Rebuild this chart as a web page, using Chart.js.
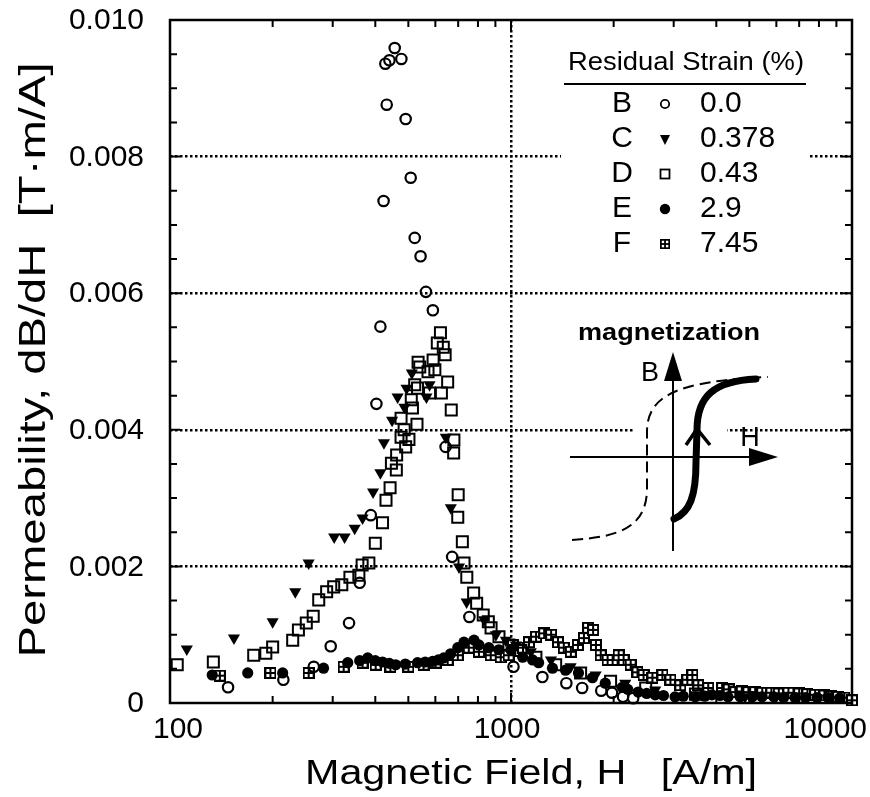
<!DOCTYPE html>
<html><head><meta charset="utf-8">
<script src="https://cdn.jsdelivr.net/npm/chart.js@4.4.1/dist/chart.umd.min.js"></script>
<style>html,body{margin:0;padding:0;background:#fff;}canvas{display:block;}</style>
</head><body>
<canvas id="c" width="870" height="797"></canvas>
<script>
// ---- data (H in A/m, permeability in T·m/A) ----
const seriesLetters = ['B','C','D','E','F'];
const strainValues = ['0.0','0.378','0.43','2.9','7.45'];
const xTickLabels = [100, 1000, 10000];
const yTickLabels = [0, 0.002, 0.004, 0.006, 0.008, 0.010];

const bH  = [148,215,264,296,335,360,388,403,414,423,428,432,440,456,477,491,508,522,543,563,590,643,672,755,1017,1236,1453,1617,1839,1978,2130,2282];
const bMu = [0.00023,0.00034,0.00053,0.00083,0.00117,0.00176,0.00275,0.00438,0.00551,0.00735,0.00936,0.00876,0.00941,0.00959,0.00943,0.00855,0.00769,0.00681,0.00654,0.00602,0.00575,0.00375,0.00214,0.00126,0.00053,0.00038,0.00029,0.00022,0.00018,0.00015,0.00009,0.00007];

const cH  = [112,154,200,233,255,303,325,348,367,394,414,424,448,465,487,494,512,565,577,644,666,704,741,834,903,966,1033,1143,1310,1496,1771,2163,2648,3467,4855];
const cMu = [0.00079,0.00095,0.00119,0.00163,0.00205,0.00243,0.00243,0.00256,0.00271,0.00309,0.00337,0.00381,0.00414,0.00448,0.00433,0.00461,0.00483,0.00448,0.00466,0.00389,0.00286,0.00199,0.00148,0.00122,0.00100,0.00092,0.00085,0.00075,0.00063,0.00053,0.00041,0.00029,0.00019,0.00012,0.00009];

const dH  = [105,134,176,191,200,229,238,251,263,273,288,302,319,337,358,366,383,400,420,430,442,446,461,462,476,491,502,486,530,476,514,510,522,532,577,625,652,540,571,598,534,591,641,633,608,621,668,680,679,700,698,720,728,742,777,793,829,858,874,922,986,1069,1183,1352,1600,1959,2483,3475];
const dMu = [0.00056,0.00060,0.00070,0.00073,0.00082,0.00092,0.00107,0.00117,0.00127,0.00151,0.00163,0.00170,0.00173,0.00184,0.00187,0.00202,0.00205,0.00234,0.00264,0.00297,0.00315,0.00351,0.00341,0.00363,0.00389,0.00375,0.00386,0.00400,0.00408,0.00417,0.00432,0.00444,0.00466,0.00461,0.00454,0.00454,0.00470,0.00492,0.00485,0.00488,0.00499,0.00502,0.00510,0.00521,0.00527,0.00542,0.00429,0.00385,0.00366,0.00305,0.00272,0.00236,0.00205,0.00184,0.00161,0.00146,0.00129,0.00119,0.00110,0.00097,0.00085,0.00077,0.00067,0.00056,0.00044,0.00032,0.00022,0.00013];

const eH  = [133,169,214,282,332,360,380,400,420,440,459,490,532,560,589,612,635,665,698,728,779,805,861,921,999,1082,1157,1205,1323,1445,1577,1733,1890,2120,2200,2360,2500,2648,2800,3027,3200,3467,3700,3883,4100,4329,4700,5100,5444,5900,6300,6806,7300,7900,8511,9200];
const eMu = [0.00041,0.00044,0.00044,0.00051,0.00059,0.00062,0.00066,0.00062,0.00060,0.00058,0.00056,0.00057,0.00059,0.00060,0.00061,0.00063,0.00066,0.00072,0.00081,0.00089,0.00092,0.00085,0.00081,0.00078,0.00078,0.00067,0.00063,0.00059,0.00051,0.00048,0.00044,0.00037,0.00029,0.00023,0.00020,0.00016,0.00014,0.00012,0.00011,0.00009,0.00010,0.00009,0.00010,0.00012,0.00011,0.00009,0.00009,0.00009,0.00009,0.00009,0.00008,0.00008,0.00008,0.00008,0.00008,0.00007];

const fH  = [140,197,255,323,367,401,443,500,554,601,652,698,752,805,872,933,984,1013,1084,1129,1184,1251,1311,1373,1428,1498,1571,1636,1683,1741,1774,1833,1920,1986,2069,2139,2243,2349,2447,2598,2780,2934,3137,3289,3402,3542,3787,4160,4350,4546,4750,4966,5200,5454,5800,6100,6508,7000,7400,7793,8300,8700,9106,9500,10000];
const fMu = [0.00040,0.00044,0.00044,0.00053,0.00059,0.00056,0.00053,0.00053,0.00056,0.00059,0.00063,0.00070,0.00081,0.00075,0.00070,0.00067,0.00070,0.00085,0.00081,0.00089,0.00097,0.00102,0.00100,0.00089,0.00081,0.00075,0.00085,0.00095,0.00110,0.00107,0.00085,0.00070,0.00063,0.00063,0.00070,0.00063,0.00056,0.00045,0.00041,0.00037,0.00041,0.00034,0.00026,0.00034,0.00041,0.00026,0.00022,0.00022,0.00020,0.00016,0.00017,0.00016,0.00016,0.00015,0.00015,0.00014,0.00015,0.00014,0.00013,0.00012,0.00011,0.00010,0.00009,0.00008,0.00004];

// ---- helpers ----
const FONT = '"Liberation Sans", Arial, Helvetica, sans-serif';
const pts = (h, m) => h.map((v, i) => ({x: v, y: m[i]}));
function makeFMarker() {
  const c = document.createElement('canvas'); c.width = 12; c.height = 12;
  const g = c.getContext('2d');
  g.fillStyle = '#000'; g.fillRect(0, 0, 12, 12);
  g.fillStyle = '#fff';
  g.fillRect(2, 2, 3, 3); g.fillRect(7, 2, 3, 3); g.fillRect(2, 7, 3, 3); g.fillRect(7, 7, 3, 3);
  return c;
}
const fMarker = makeFMarker();
function txt(ctx, s, x, y, size, align, w, bold) {
  ctx.save();
  ctx.font = (bold ? 'bold ' : '') + size + 'px ' + FONT;
  ctx.textBaseline = 'middle';
  ctx.textAlign = align;
  ctx.fillStyle = '#000';
  const m = ctx.measureText(s).width;
  const sx = w ? w / m : 1;
  ctx.translate(x, y); ctx.scale(sx, 1);
  ctx.fillText(s, 0, 0);
  ctx.restore();
}
function legendMarker(ctx, i, x, y) {
  ctx.save();
  ctx.strokeStyle = '#000'; ctx.fillStyle = '#000'; ctx.lineWidth = 1.8;
  if (i === 0) { ctx.beginPath(); ctx.arc(x, y, 4.2, 0, Math.PI * 2); ctx.stroke(); }
  else if (i === 1) { ctx.beginPath(); ctx.moveTo(x - 5, y - 4); ctx.lineTo(x + 5, y - 4); ctx.lineTo(x, y + 6); ctx.closePath(); ctx.fill(); }
  else if (i === 2) { ctx.strokeRect(x - 4.5, y - 4.5, 9, 9); }
  else if (i === 3) { ctx.beginPath(); ctx.arc(x, y, 5.2, 0, Math.PI * 2); ctx.fill(); }
  else { ctx.drawImage(fMarker, x - 5, y - 5, 10, 10); }
  ctx.restore();
}

const deco = {
  id: 'deco',
  afterDraw(chart) {
    const {ctx, chartArea: a, scales: {x, y}} = chart;
    ctx.save();
    // frame
    ctx.strokeStyle = '#000'; ctx.lineWidth = 2.5;
    ctx.strokeRect(a.left, a.top, a.right - a.left, a.bottom - a.top);
    // inward ticks
    ctx.lineWidth = 2; ctx.beginPath();
    for (let e = 2; e <= 3; e++) for (let k = 1; k <= 9; k++) {
      const v = k * Math.pow(10, e); if (v <= 100) continue;
      const px = x.getPixelForValue(v), len = k === 1 ? 10 : 7;
      ctx.moveTo(px, a.bottom); ctx.lineTo(px, a.bottom - len);
      ctx.moveTo(px, a.top); ctx.lineTo(px, a.top + len);
    }
    for (let i = 1; i < 20; i++) {
      const py = y.getPixelForValue(i * 0.0005), len = i % 4 === 0 ? 10 : 7;
      ctx.moveTo(a.left, py); ctx.lineTo(a.left + len, py);
      ctx.moveTo(a.right, py); ctx.lineTo(a.right - len, py);
    }
    ctx.stroke();
    // tick labels
    yTickLabels.forEach(v => txt(ctx, v === 0 ? '0' : v.toFixed(3), a.left - 26, y.getPixelForValue(v) + 1, 30, 'right'));
    xTickLabels.forEach(v => {
      const px = x.getPixelForValue(v);
      if (v === 10000) txt(ctx, '10000', 867, 730, 30, 'right');
      else txt(ctx, String(v), px + (v === 100 ? 8 : -4), 730, 30, 'center');
    });
    // axis titles
    txt(ctx, 'Magnetic Field, H   [A/m]', 305, 774, 35, 'left', 452);
    ctx.save(); ctx.translate(35, 360); ctx.rotate(-Math.PI / 2);
    txt(ctx, 'Permeability, dB/dH  [T\u00B7m/A]', 0, 0, 36, 'center', 595);
    ctx.restore();

    // legend
    ctx.fillStyle = '#fff'; ctx.fillRect(561, 40, 248, 225);
    txt(ctx, 'Residual Strain (%)', 686, 63, 25, 'center', 236);
    ctx.lineWidth = 2; ctx.beginPath(); ctx.moveTo(564, 84); ctx.lineTo(806, 84); ctx.stroke();
    seriesLetters.forEach((s, i) => {
      const yy = 104 + i * 35;
      txt(ctx, s, 622, yy, 30, 'center');
      legendMarker(ctx, i, 665, yy);
      txt(ctx, strainValues[i], 700, yy, 30, 'left');
    });

    // inset: magnetization sketch
    ctx.fillStyle = '#fff'; ctx.fillRect(633, 421, 94, 18);
    txt(ctx, 'magnetization', 669, 333, 24, 'center', 182, true);
    txt(ctx, 'B', 650, 374, 27, 'center');
    txt(ctx, 'H', 750, 439, 27, 'center');
    ctx.strokeStyle = '#000'; ctx.fillStyle = '#000';
    ctx.lineWidth = 2; ctx.setLineDash([]);
    ctx.beginPath(); ctx.moveTo(673, 551); ctx.lineTo(673, 378); ctx.stroke();
    ctx.beginPath(); ctx.moveTo(673, 352); ctx.lineTo(664, 381); ctx.lineTo(682, 381); ctx.closePath(); ctx.fill();
    ctx.beginPath(); ctx.moveTo(570, 457); ctx.lineTo(752, 457); ctx.stroke();
    ctx.beginPath(); ctx.moveTo(778, 457); ctx.lineTo(749, 448); ctx.lineTo(749, 466); ctx.closePath(); ctx.fill();
    // dashed loop branch
    ctx.lineWidth = 2; ctx.setLineDash([11, 6]);
    ctx.beginPath(); ctx.moveTo(572, 540);
    ctx.bezierCurveTo(618, 537, 646, 528, 647, 490);
    ctx.lineTo(647, 432);
    ctx.bezierCurveTo(647, 396, 676, 381, 768, 377);
    ctx.stroke();
    ctx.setLineDash([]);
    // thick magnetization curve
    ctx.lineWidth = 7; ctx.lineCap = 'round';
    ctx.beginPath(); ctx.moveTo(674, 519);
    ctx.bezierCurveTo(690, 512, 696, 496, 696, 462);
    ctx.lineTo(697, 430);
    ctx.bezierCurveTo(697, 396, 714, 381, 756, 379);
    ctx.stroke();
    ctx.lineWidth = 3.5; ctx.lineCap = 'butt';
    ctx.beginPath(); ctx.moveTo(686, 445); ctx.lineTo(697, 429); ctx.lineTo(710, 445); ctx.stroke();
    ctx.restore();
  }
};

const gridColorX = c => (c.tick && Math.abs(c.tick.value - 1000) < 1) ? '#000' : 'rgba(0,0,0,0)';
const gridColorY = c => {
  if (!c.tick) return 'rgba(0,0,0,0)';
  const v = c.tick.value;
  return (v > 0.001 && v < 0.0095) ? '#000' : 'rgba(0,0,0,0)';
};

new Chart(document.getElementById('c'), {
  type: 'scatter',
  data: {
    datasets: [
      {label: 'B', data: pts(bH, bMu), pointStyle: 'circle', pointRadius: 5.2, borderWidth: 2.2, borderColor: '#000', backgroundColor: 'rgba(0,0,0,0)', clip: 10},
      {label: 'C', data: pts(cH, cMu), pointStyle: 'triangle', pointRotation: 180, pointRadius: 7, borderWidth: 0, borderColor: '#000', backgroundColor: '#000', clip: 10},
      {label: 'D', data: pts(dH, dMu), pointStyle: 'rect', pointRadius: 7.8, borderWidth: 2, borderColor: '#000', backgroundColor: 'rgba(0,0,0,0)', clip: 10},
      {label: 'E', data: pts(eH, eMu), pointStyle: 'circle', pointRadius: 5.6, borderWidth: 0, borderColor: '#000', backgroundColor: '#000', clip: 10},
      {label: 'F', data: pts(fH, fMu), pointStyle: fMarker, pointRadius: 6, clip: 10}
    ]
  },
  options: {
    responsive: false,
    animation: false,
    events: [],
    devicePixelRatio: 1,
    layout: {padding: {left: 170, right: 18, top: 20, bottom: 94}},
    plugins: {legend: {display: false}, tooltip: {enabled: false}},
    scales: {
      x: {
        type: 'logarithmic', min: 100, max: 10000,
        ticks: {display: false},
        grid: {drawTicks: false, color: gridColorX, lineWidth: 2.5},
        border: {display: false, dash: [2.5, 2.5]},
        title: {display: false}
      },
      y: {
        type: 'linear', min: 0, max: 0.010,
        ticks: {display: false, stepSize: 0.002},
        grid: {drawTicks: false, color: gridColorY, lineWidth: 2.5},
        border: {display: false, dash: [2.5, 2.5]},
        title: {display: false}
      }
    }
  },
  plugins: [deco]
});
</script>
</body></html>
